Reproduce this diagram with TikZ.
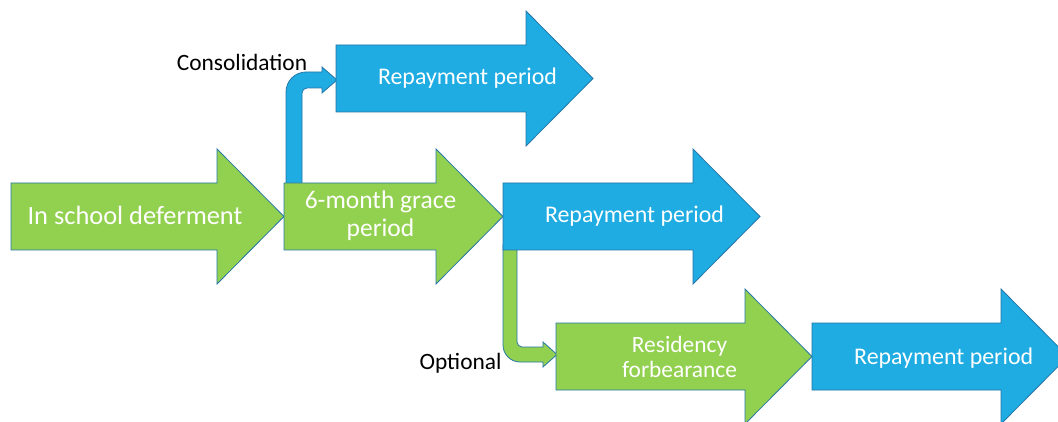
\documentclass[tikz,border=0pt]{standalone}
\usepackage{fontspec}
\setmainfont{Carlito}
\definecolor{bfill}{RGB}{30,172,226}
\definecolor{gfill}{RGB}{146,208,80}
\definecolor{edgecol}{RGB}{38,118,168}
% style, x0, xtip, yc
\newcommand\flowarrow[4]{%
  \path[#1] ({#2},{#4-33.5}) -- ({#3-67},{#4-33.5}) -- ({#3-67},{#4-67.5})
    -- ({#3},{#4}) -- ({#3-67},{#4+67.5}) -- ({#3-67},{#4+33.5})
    -- ({#2},{#4+33.5}) -- cycle;}
\begin{document}
\begin{tikzpicture}[x=1pt,y=-1pt,line join=miter,
  garrow/.style={fill=gfill,draw=edgecol,line width=0.8pt},
  barrow/.style={fill=bfill,draw=edgecol,line width=0.8pt},
  wlabel/.style={text=white,inner sep=0pt,align=center},
  klabel/.style={text=black,anchor=base,inner sep=0pt,font=\fontsize{23.4}{28}\selectfont}]
\useasboundingbox (0,0) rectangle (1058,422);
\clip (0,0) rectangle (1058,422);
% main stages
\flowarrow{garrow}{11}{284}{216.5}
% consolidation bent arrow
\draw[barrow] (286,190) -- (286,92) arc[start angle=180,end angle=270,radius=20]
  -- (322,72) -- (322,67) -- (337,80) -- (322,93) -- (322,88) -- (307,88)
  arc[start angle=270,end angle=180,radius=5] -- (302,190) -- cycle;
% optional bent arrow
\draw[garrow] (503,245) -- (503,345) arc[start angle=180,end angle=90,radius=17]
  -- (543,362) -- (543,367) -- (557,354.5) -- (543,342) -- (543,347) -- (522,347)
  arc[start angle=90,end angle=180,radius=5] -- (517,245) -- cycle;
\flowarrow{garrow}{284}{503}{216.5}
\flowarrow{barrow}{503}{760}{216.5}
\flowarrow{barrow}{336}{593}{78.5}
\flowarrow{garrow}{556}{812}{356.5}
\flowarrow{barrow}{812}{1068}{356.5}
% texts
\node[wlabel,anchor=base,font=\fontsize{26.4}{30}\selectfont] (defer) at (135,225) {In school deferment};
\node[wlabel,anchor=base,font=\fontsize{25.5}{28}\selectfont] (grace1) at (380.5,209) {6-month grace};
\node[wlabel,anchor=base,font=\fontsize{25.5}{28}\selectfont] (grace2) at (380.5,237) {period};
\node[wlabel,anchor=base,font=\fontsize{23.9}{28}\selectfont] (repmid) at (634.5,223) {Repayment period};
\node[wlabel,anchor=base,font=\fontsize{23.9}{28}\selectfont] (reptop) at (467.5,85) {Repayment period};
\node[wlabel,anchor=base,font=\fontsize{23.9}{28}\selectfont] (repbot) at (943.7,364) {Repayment period};
\node[wlabel,anchor=base,font=\fontsize{23.4}{25}\selectfont] (res1) at (679.5,352) {Residency};
\node[wlabel,anchor=base,font=\fontsize{23.4}{25}\selectfont] (res2) at (679.5,377) {forbearance};
\node[klabel] (cons) at (242,71) {Consolidation};
\node[klabel] (opt) at (460.5,369) {Optional};
\end{tikzpicture}
\end{document}
